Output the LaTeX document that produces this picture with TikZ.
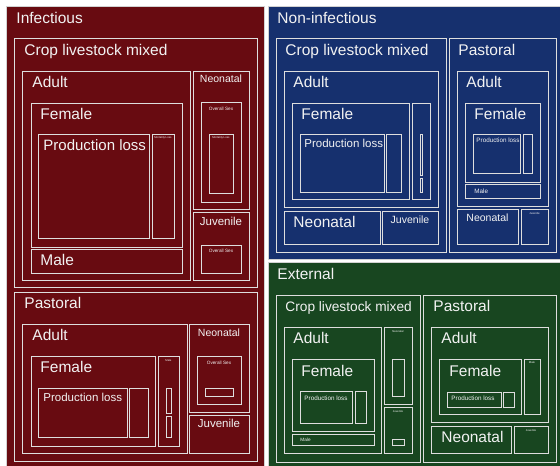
\documentclass[tikz,border=0pt]{standalone}
\usepackage{fontspec}
\setmainfont{Liberation Sans}
\usepackage{tikz}
\definecolor{infred}{RGB}{104,11,17}
\definecolor{nonblue}{RGB}{22,48,110}
\definecolor{extgreen}{RGB}{24,70,32}
\definecolor{edge}{RGB}{222,222,222}
\tikzset{every picture/.style={line width=0.9pt}}
\tikzset{
  tile/.style={draw=edge},
  group/.style={draw=gray!35, line width=0.8pt},
  lbl/.style={text=white!95!black, inner sep=0pt, anchor=base west},
  clbl/.style={text=white!95!black, inner sep=0pt, anchor=base},
  fsA/.style={font=\fontsize{15.5}{16}\selectfont},
  fsAb/.style={font=\fontsize{13.7}{14}\selectfont},
  fsB/.style={font=\fontsize{11.5}{12}\selectfont},
  fsC/.style={font=\fontsize{10.5}{11}\selectfont},
  fsD/.style={font=\fontsize{6.3}{7}\selectfont},
  fsE/.style={font=\fontsize{4.7}{5}\selectfont},
  fsF/.style={font=\fontsize{2.8}{3}\selectfont}
}

\begin{document}
\begin{tikzpicture}[x=1pt,y=1pt,yscale=-1]
\useasboundingbox[fill=white] (0,0) rectangle (560,466);

%Infectious
\draw[group, fill=infred] (6,6) rectangle (264,466);
\node[lbl, fsA] (infT) at (16,23) {Infectious};
%-- crop livestock mixed
\draw[tile] (14,38) rectangle (257,287);
\node[lbl, fsA] (infClmT) at (24,55.5) {Crop livestock mixed};
\draw[tile] (22,71) rectangle (190,280);
\node[lbl, fsA] (infClmAd) at (32,87) {Adult};
\draw[tile] (31,103) rectangle (182,247);
\node[lbl, fsA] (infClmFe) at (40,119) {Female};
\draw[tile] (38,134) rectangle (149,238);
\node[lbl, font=\fontsize{15}{15}\selectfont] (infClmPl) at (43,150.5) {Production loss};
\draw[tile] (152,134) rectangle (174,238);
\node[clbl, fsF] (infClmMl) at (163,138) {Mortality Loss};
\draw[tile] (31,249) rectangle (182,273);
\node[lbl, fsA] (infClmMa) at (40,265.5) {Male};
\draw[tile] (193,71) rectangle (249,209);
\node[clbl, fsC] (infClmNe) at (221,82.5) {Neonatal};
\draw[tile] (201,102) rectangle (241,202);
\node[clbl, fsE] (infClmNeOs) at (221,110) {Overall Sex};
\draw[tile] (209,134) rectangle (233,193);
\node[clbl, fsF] (infClmNeMl) at (221,138) {Mortality Loss};
\draw[tile] (193,212) rectangle (249,280);
\node[clbl, fsB] (infClmJu) at (221,225) {Juvenile};
\draw[tile] (201,245) rectangle (241,273);
\node[clbl, fsE] (infClmJuOs) at (221,252) {Overall Sex};
%-- pastoral
\draw[tile] (14,292) rectangle (257,461);
\node[lbl, fsA] (infPasT) at (24,308) {Pastoral};
\draw[tile] (22,324) rectangle (187,453);
\node[lbl, fsA] (infPasAd) at (32,340) {Adult};
\draw[tile] (31,356) rectangle (155,446);
\node[lbl, fsA] (infPasFe) at (40,372.5) {Female};
\draw[tile] (38,388) rectangle (127,437);
\node[lbl, fsB] (infPasPl) at (43,401) {Production loss};
\draw[tile] (129,388) rectangle (148,437);
\draw[tile] (158,356) rectangle (179,446);
\node[clbl, fsF] (infPasMa) at (168.5,361) {Male};
\draw[tile] (166,388) rectangle (171,413);
\draw[tile] (166,416) rectangle (171,437);
\draw[tile] (189,324) rectangle (249,412);
\node[clbl, fsC] (infPasNe) at (219,336) {Neonatal};
\draw[tile] (197,356) rectangle (241,404);
\node[clbl, fsE] (infPasNeOs) at (219,364) {Overall Sex};
\draw[tile] (205,388) rectangle (233,396);
\draw[tile] (189,415) rectangle (249,453);
\node[clbl, fsB] (infPasJu) at (219,427.5) {Juvenile};

%Non-infectious
\draw[group, fill=nonblue] (268,6) rectangle (560,259);
\node[lbl, fsA] (nonT) at (277,23) {Non-infectious};
%-- crop livestock mixed
\draw[tile] (276,38) rectangle (446,252);
\node[lbl, fsA] (nonClmT) at (285,55.5) {Crop livestock mixed};
\draw[tile] (284,71) rectangle (438,207);
\node[lbl, fsA] (nonClmAd) at (293,87) {Adult};
\draw[tile] (292,103) rectangle (409,199);
\node[lbl, fsA] (nonClmFe) at (301,119) {Female};
\draw[tile] (300,134) rectangle (384,192);
\node[lbl, fsB] (nonClmPl) at (304,147.3) {Production loss};
\draw[tile] (386,134) rectangle (401,192);
\draw[tile] (412,103) rectangle (430,199);
\draw[tile] (420,134) rectangle (422,175);
\draw[tile] (420,178) rectangle (422,192);
\draw[tile] (284,211) rectangle (380,244);
\node[lbl, fsA] (nonClmNe) at (293,227.3) {Neonatal};
\draw[tile] (382,211) rectangle (438,244);
\node[clbl, fsC] (nonClmJu) at (410,223) {Juvenile};
%-- pastoral
\draw[tile] (449,38) rectangle (556,252);
\node[lbl, fsA] (nonPasT) at (458,55.5) {Pastoral};
\draw[tile] (457,71) rectangle (548,206);
\node[lbl, fsA] (nonPasAd) at (466,87) {Adult};
\draw[tile] (465,103) rectangle (540,182);
\node[lbl, fsA] (nonPasFe) at (474,119) {Female};
\draw[tile] (473,134) rectangle (520,173);
\node[lbl, fsD] (nonPasPl) at (476,142.7) {Production loss};
\draw[tile] (523,134) rectangle (532,173);
\draw[tile] (465,184) rectangle (540,198);
\node[lbl, fsD] (nonPasMa) at (474,193.3) {Male};
\draw[tile] (457,209) rectangle (518,244);
\node[lbl, fsC] (nonPasNe) at (466,221.7) {Neonatal};
\draw[tile] (521,209) rectangle (548,244);
\node[clbl, fsF] (nonPasJu) at (534.5,214) {Juvenile};

%External
\draw[group, fill=extgreen] (268,262) rectangle (560,466);
\node[lbl, fsA] (extT) at (277,279) {External};
%-- crop livestock mixed
\draw[tile] (276,295) rectangle (420,462);
\node[lbl, fsAb] (extClmT) at (285,311.7) {Crop livestock mixed};
\draw[tile] (284,327) rectangle (381,453);
\node[lbl, fsA] (extClmAd) at (293,343.5) {Adult};
\draw[tile] (292,359) rectangle (374,431);
\node[lbl, fsA] (extClmFe) at (301,376.5) {Female};
\draw[tile] (300,391) rectangle (352,423);
\node[lbl, fsD] (extClmPl) at (304,400.7) {Production loss};
\draw[tile] (355,391) rectangle (366,423);
\draw[tile] (292,434) rectangle (374,445);
\node[lbl, fsE] (extClmMa) at (300,441) {Male};
\draw[tile] (384,327) rectangle (412,404);
\node[clbl, fsF] (extClmNe) at (398,332) {Neonatal};
\draw[tile] (392,359) rectangle (404,396);
\draw[tile] (384,407) rectangle (412,453);
\node[clbl, fsF] (extClmJu) at (398,412) {Juvenile};
\draw[tile] (392,439) rectangle (404,445);
%-- pastoral
\draw[tile] (423,295) rectangle (556,462);
\node[lbl, fsA] (extPasT) at (433,311.7) {Pastoral};
\draw[tile] (431,327) rectangle (548,422);
\node[lbl, fsA] (extPasAd) at (441,343.5) {Adult};
\draw[tile] (439,359) rectangle (521,414);
\node[lbl, fsA] (extPasFe) at (449,376.5) {Female};
\draw[tile] (447,392) rectangle (501,407);
\node[lbl, fsD] (extPasPl) at (451,400.7) {Production loss};
\draw[tile] (503,392) rectangle (514,407);
\draw[tile] (524,359) rectangle (540,414);
\node[clbl, fsF] (extPasMa) at (532,363) {Male};
\draw[tile] (431,426) rectangle (511,453);
\node[lbl, fsA] (extPasNe) at (441,442.3) {Neonatal};
\draw[tile] (514,426) rectangle (548,453);
\node[clbl, fsF] (extPasJu) at (531,431) {Juvenile};

\end{tikzpicture}
\end{document}
